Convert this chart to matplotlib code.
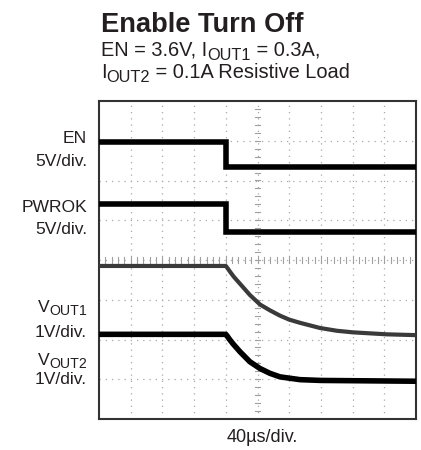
import numpy as np
import matplotlib
matplotlib.use("Agg")
import matplotlib.pyplot as plt

plt.rcParams['font.family'] = ['Liberation Sans', 'DejaVu Sans']

W, H = 421, 450
INK = '#231f20'

# scope traces (x in divisions, y in divisions)
en_t = [0, 4.0, 4.0, 10]
en_v = [6.96, 6.96, 6.35, 6.35]

pwrok_t = [0, 4.0, 4.0, 10]
pwrok_v = [5.40, 5.40, 4.71, 4.71]

vout1_t = [0, 4.0, 4.05, 4.12, 4.25, 4.45, 4.76, 5.08, 5.4, 5.71, 6.0, 6.34, 6.97, 7.5, 8.01, 9.08, 10]
vout1_v = [3.85, 3.85, 3.80, 3.72, 3.58, 3.40, 3.12, 2.88, 2.73, 2.60, 2.50, 2.42, 2.29, 2.22, 2.18, 2.13, 2.11]

vout2_t = [0, 4.0, 4.05, 4.12, 4.24, 4.45, 4.76, 5.08, 5.39, 5.71, 6.34, 7.0, 8.5, 10]
vout2_v = [2.13, 2.13, 2.08, 2.00, 1.88, 1.69, 1.44, 1.27, 1.15, 1.06, 0.99, 0.97, 0.96, 0.95]

# channel labels as (main, subscript) runs
channel_labels = [("EN", ""), ("5V/div.", ""), ("PWROK", ""), ("5V/div.", ""),
                  ("V", "OUT1"), ("1V/div.", ""), ("V", "OUT2"), ("1V/div.", "")]
label_baselines = [143, 166, 212, 234, 312, 337, 365, 384]   # pixel rows

fig = plt.figure(figsize=(W / 100, H / 100), dpi=100)
ax = fig.add_axes([99 / W, 31 / H, 317 / W, 318 / H])
ax.set_xlim(0, 10)
ax.set_ylim(0, 8)

# graticule
grid_kw = dict(color='#a8a8a8', lw=0.9, ls=(0, (1, 4)), zorder=1)
for gx in range(1, 10):
    ax.axvline(gx, **grid_kw)
for gy in range(1, 8):
    ax.axhline(gy, **grid_kw)
for mx in np.arange(0.2, 10, 0.2):
    ax.plot([mx, mx], [3.93, 4.07], color='#a0a0a0', lw=0.8, zorder=1)
for my in np.arange(0.2, 8, 0.2):
    ax.plot([4.93, 5.07], [my, my], color='#a0a0a0', lw=0.8, zorder=1)

ax.plot(en_t, en_v, color='black', lw=4, solid_joinstyle='miter', zorder=3)
ax.plot(pwrok_t, pwrok_v, color='black', lw=4, solid_joinstyle='miter', zorder=3)
ax.plot(vout1_t, vout1_v, color='#3a3a3a', lw=3, zorder=3)
ax.plot(vout2_t, vout2_v, color='black', lw=4, zorder=3)

ax.set_xticks([])
ax.set_yticks([])
for sp in ax.spines.values():
    sp.set_color('#333333')
    sp.set_linewidth(1.5)

renderer = fig.canvas.get_renderer()


def runs_text(x, y, runs, align='left', **kw):
    """Write text runs [(text, size, drop_px)] on one baseline, pixel coords from top-left."""
    seq = runs if align == 'left' else runs[::-1]
    for s, size, drop in seq:
        if not s:
            continue
        t = fig.text(x / W, 1 - (y + drop) / H, s, fontsize=size, va='baseline',
                     ha=align, color=INK, **kw)
        bb = t.get_window_extent(renderer)
        x = bb.x1 if align == 'left' else bb.x0


for (main, sub), base in zip(channel_labels, label_baselines):
    runs_text(87, base, [(main, 12.6, 0), (sub, 10.2, 3)], align='right')

fig.text(262 / W, 1 - 442 / H, "40µs/div.", ha='center', va='baseline', fontsize=13, color=INK)

runs_text(101, 32, [("Enable Turn Off", 19.6, 0)], fontweight='bold')
runs_text(101, 56, [("EN = 3.6V, I", 14.4, 0), ("OUT1", 11.8, 4), (" = 0.3A,", 14.4, 0)])
runs_text(101, 78, [("I", 14.4, 0), ("OUT2", 11.8, 4), (" = 0.1A Resistive Load", 14.4, 0)])

fig.savefig("out.png", dpi=100)
